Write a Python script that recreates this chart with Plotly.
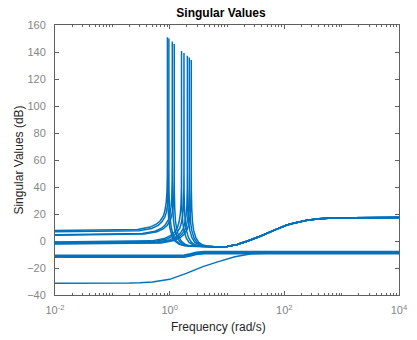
import plotly.graph_objects as go

# ---- data (frequency in rad/s, magnitude in dB) ----
# resonant (largest) singular value of each model: low-frequency part + peak
P1_W = [0.01, 0.274, 0.457, 0.594, 0.686, 0.777, 0.823, 0.868, 0.896, 0.9094, 0.9131, 0.914,
        0.9149, 0.9186, 0.9323, 0.9597, 1.005, 1.097, 1.234, 1.462, 1.828]
P1_DB = [7.8, 8.6, 10.3, 12.6, 15.0, 18.6, 22.2, 28.0, 35.8, 47.8, 61.8, 151.0,
         52, 38, 26, 17, 10, 4, 0, -2.5, -3.6]

P2_W = [0.01, 0.291, 0.485, 0.630, 0.727, 0.824, 0.872, 0.921, 0.950, 0.964, 0.968, 0.969,
        0.970, 0.974, 0.988, 1.017, 1.066, 1.163, 1.308, 1.550, 1.938]
P2_DB = [6.8, 7.6, 9.3, 11.6, 14.0, 17.6, 21.2, 27.0, 34.8, 46.8, 60.8, 150.0,
         52, 38, 26, 17, 10, 4, 0, -2.5, -3.6]

P3_W = [0.01, 0.333, 0.556, 0.722, 0.833, 0.944, 1.000, 1.055, 1.089, 1.105, 1.110, 1.111,
        1.112, 1.117, 1.133, 1.167, 1.222, 1.333, 1.500, 1.778, 2.222]
P3_DB = [4.7, 5.5, 7.2, 9.5, 11.9, 15.5, 19.1, 24.9, 32.7, 44.7, 58.7, 147.7,
         50, 36, 24, 15, 9, 3, -0.5, -2.8, -3.8]

P4_W = [0.01, 0.361, 0.601, 0.781, 0.902, 1.022, 1.082, 1.142, 1.178, 1.196, 1.201, 1.202,
        1.203, 1.208, 1.226, 1.262, 1.322, 1.442, 1.623, 1.923, 2.404]
P4_DB = [4.3, 5.1, 6.8, 9.1, 11.5, 15.1, 18.7, 24.5, 32.3, 44.3, 58.3, 146.0,
         50, 36, 24, 15, 9, 3, -0.5, -2.8, -3.8]

P5_W = [0.01, 0.483, 0.805, 1.047, 1.208, 1.369, 1.449, 1.530, 1.578, 1.602, 1.608, 1.610,
        1.612, 1.618, 1.642, 1.691, 1.771, 1.932, 2.174, 2.576, 3.220]
P5_DB = [-0.7, 0.1, 1.8, 4.1, 6.5, 10.1, 13.7, 19.5, 27.3, 39.3, 53.3, 140.7,
         50, 36, 24, 14, 8, 2.5, -1, -3, -3.9]

P6_W = [0.01, 0.533, 0.889, 1.155, 1.333, 1.510, 1.599, 1.688, 1.741, 1.768, 1.775, 1.777,
        1.779, 1.786, 1.813, 1.866, 1.955, 2.132, 2.399, 2.843, 3.554]
P6_DB = [-1.1, -0.3, 1.4, 3.7, 6.1, 9.7, 13.3, 19.1, 26.9, 38.9, 52.9, 139.3,
         50, 36, 24, 14, 8, 2.5, -1, -3, -3.9]

P7_W = [0.01, 0.611, 1.019, 1.324, 1.528, 1.731, 1.833, 1.935, 1.996, 2.027, 2.035, 2.037,
        2.039, 2.047, 2.078, 2.139, 2.241, 2.444, 2.750, 3.259, 4.074]
P7_DB = [-1.5, -0.7, 1.0, 3.3, 5.7, 9.3, 12.9, 18.7, 26.5, 38.5, 52.5, 137.3,
         50, 36, 24, 14, 8, 2.5, -1, -3, -3.9]

P8_W = [0.01, 0.661, 1.102, 1.432, 1.652, 1.873, 1.983, 2.093, 2.159, 2.192, 2.201, 2.203,
        2.205, 2.214, 2.247, 2.313, 2.423, 2.644, 2.974, 3.525, 4.406]
P8_DB = [-1.9, -1.1, 0.6, 2.9, 5.3, 8.9, 12.5, 18.3, 26.1, 38.1, 52.1, 135.9,
         50, 36, 24, 14, 8, 2.5, -1, -3, -3.9]

P9_W = [0.01, 0.714, 1.190, 1.547, 1.785, 2.023, 2.142, 2.261, 2.332, 2.368, 2.378, 2.380,
        2.382, 2.392, 2.428, 2.499, 2.618, 2.856, 3.213, 3.808, 4.760]
P9_DB = [-2.2, -1.4, 0.3, 2.6, 5.0, 8.6, 12.2, 18.0, 25.8, 37.8, 51.8, 134.0,
         50, 36, 24, 14, 8, 2.5, -1, -3, -3.9]

# common high-frequency part of the largest singular value
TAIL_W = [6, 10, 15, 23, 40, 67, 111, 150, 250, 400, 700, 1500, 10000]
TAIL_DB = [-4.2, -4.0, -2.6, 0.0, 3.9, 8.1, 11.9, 13.3, 15.3, 16.4, 17.0, 17.3, 17.4]

# second singular values (band near -11 dB merging to about -9 dB)
S2_W = [0.01, 1.2, 1.8, 2.3, 2.9, 4.0, 10000]
S2A_DB = [-10.6, -10.6, -10.3, -9.4, -8.4, -7.8, -7.7]
S2B_DB = [-11.1, -11.1, -10.8, -9.9, -8.9, -8.4, -8.3]
S2C_DB = [-11.6, -11.6, -11.4, -10.5, -9.4, -8.9, -8.8]
S2D_DB = [-12.1, -12.1, -12.0, -11.1, -10.0, -9.5, -9.4]

# smallest singular value
S3_W = [0.01, 0.2, 0.3, 0.5, 1.0, 1.95, 3.8, 7.1, 13.7, 26.7, 52.8, 100, 10000]
S3_DB = [-31.3, -31.2, -31.0, -30.4, -28.4, -24.0, -19.0, -15.3, -11.6, -9.4, -9.1, -9.0, -9.0]

X_TICKS = [0.01, 1, 100, 10000]
X_TICK_TEXT = ["10<sup>-2</sup>", "10<sup>0</sup>", "10<sup>2</sup>", "10<sup>4</sup>"]
Y_TICKS = [-40, -20, 0, 20, 40, 60, 80, 100, 120, 140, 160]

LINE_COLOR = "#0072BD"

curves = []
for w, db in [(P1_W, P1_DB), (P2_W, P2_DB), (P3_W, P3_DB), (P4_W, P4_DB), (P5_W, P5_DB),
              (P6_W, P6_DB), (P7_W, P7_DB), (P8_W, P8_DB), (P9_W, P9_DB)]:
    curves.append((w + TAIL_W, db + TAIL_DB))
for db in [S2A_DB, S2B_DB, S2C_DB, S2D_DB]:
    curves.append((S2_W, db))
curves.append((S3_W, S3_DB))

fig = go.Figure()
for w, db in curves:
    fig.add_trace(go.Scatter(x=w, y=db, mode="lines",
                             line=dict(color=LINE_COLOR, width=1.5, simplify=False),
                             showlegend=False, hoverinfo="skip"))

minor_vals = [m * 10 ** e for e in range(-2, 4) for m in range(2, 11)]

AX_COL = "#606060"
FONT = "Liberation Sans, Arial, sans-serif"
TICK_FONT = dict(family=FONT, size=11, color="#858585")

fig.update_layout(
    width=417, height=340,
    margin=dict(l=55, r=9, t=25, b=45),
    paper_bgcolor="white", plot_bgcolor="white",
    hovermode=False,
    title=dict(text="<b>Singular Values</b>", x=0.530, xanchor="center", y=0.962, yanchor="middle",
               font=dict(family=FONT, size=12, color="#000000")),
    xaxis=dict(type="log", range=[-2, 4], tickmode="array", tickvals=X_TICKS, ticktext=X_TICK_TEXT,
               ticks="inside", ticklen=4, tickcolor=AX_COL, showgrid=False, zeroline=False,
               showline=True, linecolor=AX_COL, linewidth=1, mirror="allticks",
               tickfont=TICK_FONT, ticklabelstandoff=5, ticklabeloverflow="allow",
               minor=dict(tickmode="array", tickvals=minor_vals, ticks="inside", ticklen=2,
                          tickcolor=AX_COL, showgrid=False)),
    yaxis=dict(range=[-40, 160], tickmode="array", tickvals=Y_TICKS,
               ticks="inside", ticklen=4, tickcolor=AX_COL, showgrid=False, zeroline=False,
               showline=True, linecolor=AX_COL, linewidth=1, mirror="allticks",
               tickfont=TICK_FONT, ticklabelstandoff=6,
               title=dict(text="Singular Values (dB)", standoff=0,
                          font=dict(family=FONT, size=12, color="#262626"))),
)

fig.add_annotation(text="Frequency (rad/s)", xref="paper", yref="paper", x=0.4745, y=-0.1185,
                   xanchor="center", yanchor="middle", showarrow=False,
                   font=dict(family=FONT, size=12, color="#262626"))

# remove the default page margin so the 417x340 figure fills the window exactly
fig.write_html("out.html", config={"displayModeBar": False},
               post_script="document.body.style.margin='0';document.body.style.overflow='hidden';")
